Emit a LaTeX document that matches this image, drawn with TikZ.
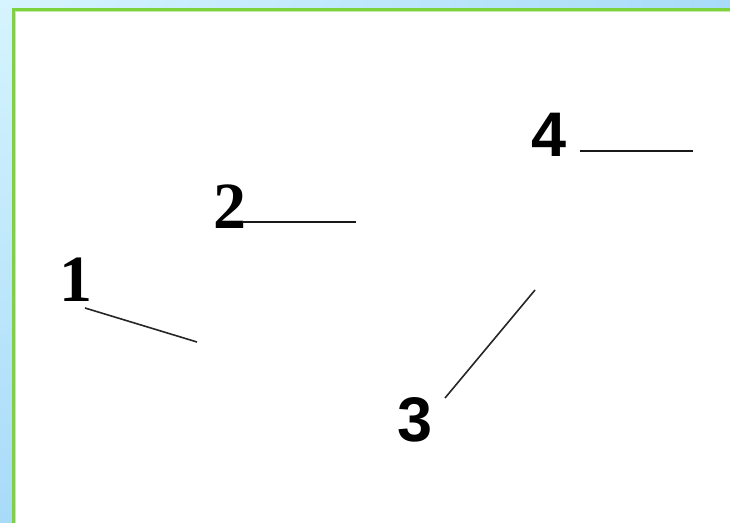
\documentclass[tikz,border=0pt]{standalone}
\usepackage{fontspec}
\setmainfont{Liberation Serif}
\setsansfont{Liberation Sans}
\usepackage{xcolor}
\definecolor{cadreVert}{HTML}{7CD33C}
\definecolor{fondClair}{HTML}{D6F4FF}
\definecolor{fondBleu}{HTML}{A8DBF8}
\definecolor{fondBleuSombre}{HTML}{A2D6F6}
\usetikzlibrary{positioning, shadings}
\tikzset{
  %% ── Labels ───────────────────────────────────────────────────────────
  repere/.style      = {inner sep=0pt, text=black,
                        font=\fontsize{66}{66}\selectfont\bfseries},
  repereSans/.style  = {repere, font=\fontsize{63}{63}\selectfont\sffamily\bfseries},
  %% ── Leader lines ─────────────────────────────────────────────────────
  trait/.style       = {draw=black!85, line width=1.6pt},
  traitFort/.style   = {draw=black!90, line width=2.0pt},
}

\begin{document}
\begin{tikzpicture}[x=1pt, y=-1pt]

\useasboundingbox (0, 0) rectangle (730, 522);

%% background and frame
\shade[upper left=fondClair, upper right=fondBleu, lower left=fondBleu,
       lower right=fondBleuSombre] (0, 0) rectangle (730, 522);
\fill[white] (13, 9.5) rectangle (731, 523);
\draw[cadreVert, line width=2.6pt] (13.2, 523) -- (13.2, 9.5) -- (731, 9.5);
\draw[cadreVert!45, line width=0.8pt] (15.2, 523) -- (15.2, 11.5) -- (731, 11.5);

%% numbers
\node[repere]     (n1) at (76, 280) {1};
\node[repere]     (n2) at (230, 207) {2};
\node[repereSans] (n3) at (415, 420) {3};
\node[repereSans] (n4) at (549, 135) {4};

%% leader ends
\coordinate (a1) at (85, 308);
\coordinate (b1) at (197, 342);
\coordinate (a2) at (242, 222);
\coordinate (b2) at (356, 222);
\coordinate (a3) at (445, 398);
\coordinate (b3) at (535, 290);
\coordinate (a4) at (580, 151);
\coordinate (b4) at (693, 151);

\draw[trait]     (a1) -- (b1);
\draw[traitFort] (a2) -- (b2);
\draw[trait]     (a3) -- (b3);
\draw[traitFort] (a4) -- (b4);

\end{tikzpicture}
\end{document}
